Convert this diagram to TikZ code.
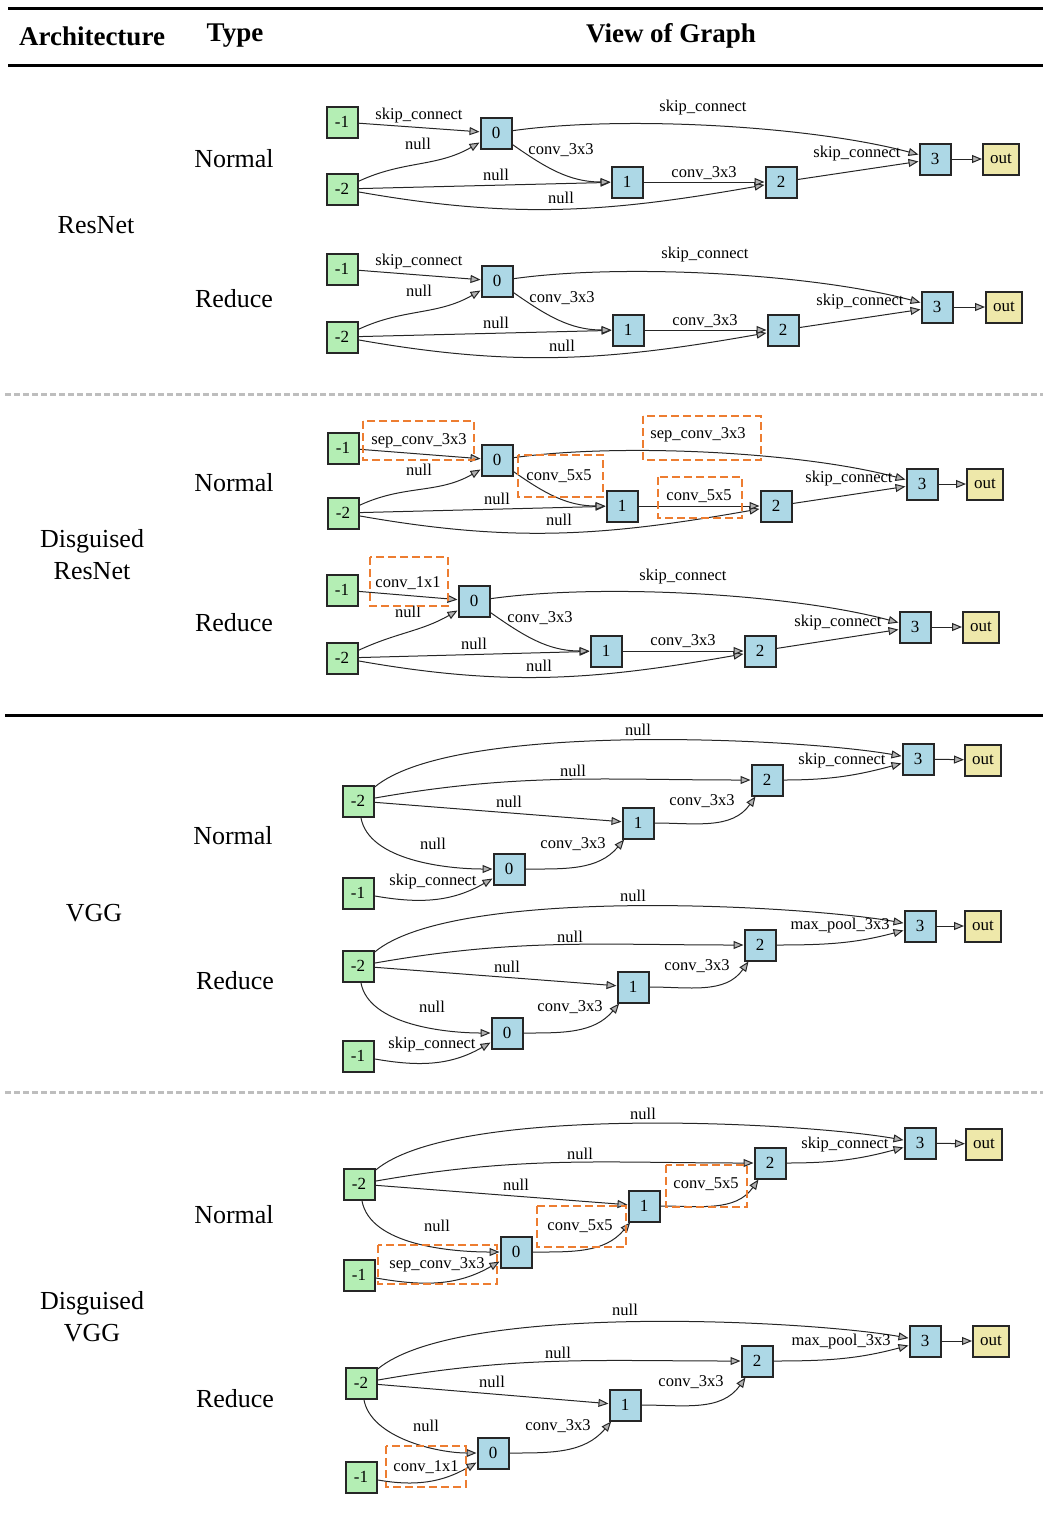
\documentclass[tikz,border=0pt]{standalone}
\usepackage{fontspec}
\setmainfont{Liberation Serif}
\usetikzlibrary{arrows.meta}
\definecolor{inpc}{RGB}{180,238,180}
\definecolor{midc}{RGB}{173,216,230}
\definecolor{outc}{RGB}{238,232,170}
\definecolor{hl}{RGB}{237,125,49}
\definecolor{sepc}{RGB}{190,190,190}

\tikzset{
 cellbox/.style={draw=black!85, line width=2pt, minimum width=31pt, minimum height=31pt, inner sep=0pt, font=\fontsize{17}{17}\selectfont},
 inp/.style={cellbox, fill=inpc},
 mid/.style={cellbox, fill=midc},
 outn/.style={cellbox, fill=outc, minimum width=36pt},
 e/.style={draw=black!85, line width=1pt, -{Triangle[length=10pt,width=8pt,fill=black!30]}},
 lab/.style={inner sep=0pt, font=\fontsize{16.5}{16.5}\selectfont},
 hlbox/.style={draw=hl, line width=2.8pt, dash pattern=on 8pt off 4pt},
 head/.style={font=\fontsize{27}{27}\selectfont\bfseries},
 side/.style={font=\fontsize{26}{32}\selectfont, align=center},
 rule/.style={line width=3pt, black},
 grayrule/.style={line width=3pt, sepc, dash pattern=on 6pt off 3pt},
}

% cell with the ResNet-like wiring: #1 prefix, #2 -1, #3 -2, #4..#7 nodes 0..3, #8 out
\newcommand\resnetcell[8]{%
  \node[inp] (#1i1) at (#2) {-1};
  \node[inp] (#1i2) at (#3) {-2};
  \node[mid] (#1n0) at (#4) {0};
  \node[mid] (#1n1) at (#5) {1};
  \node[mid] (#1n2) at (#6) {2};
  \node[mid] (#1n3) at (#7) {3};
  \node[outn] (#1o) at (#8) {out};
  \draw[e] (#1i1) -- (#1n0);
  \draw[e] (#1i2) to[out=25,in=210] (#1n0);
  \draw[e] (#1i2) -- (#1n1);
  \draw[e] (#1i2) to[out=-10,in=190] (#1n2);
  \draw[e] (#1n0) to[out=8,in=165,looseness=0.7] (#1n3);
  \draw[e] (#1n0) to[out=-35,in=180] (#1n1);
  \draw[e] (#1n1) -- (#1n2);
  \draw[e] (#1n2) -- (#1n3);
  \draw[e] (#1n3) -- (#1o);
}

% cell with the VGG-like chain wiring
\newcommand\vggcell[8]{%
  \node[inp] (#1i1) at (#2) {-1};
  \node[inp] (#1i2) at (#3) {-2};
  \node[mid] (#1n0) at (#4) {0};
  \node[mid] (#1n1) at (#5) {1};
  \node[mid] (#1n2) at (#6) {2};
  \node[mid] (#1n3) at (#7) {3};
  \node[outn] (#1o) at (#8) {out};
  \draw[e] (#1i2) to[out=40,in=170,looseness=0.5] (#1n3);
  \draw[e] (#1i2) to[out=10,in=180] (#1n2);
  \draw[e] (#1i2) -- (#1n1);
  \draw[e] (#1i2) to[out=-80,in=180,looseness=0.8] (#1n0);
  \draw[e] (#1i1) to[out=-10,in=210] (#1n0);
  \draw[e] (#1n0) to[out=0,in=230] (#1n1);
  \draw[e] (#1n1) to[out=0,in=235] (#1n2);
  \draw[e] (#1n2) to[out=0,in=195] (#1n3);
  \draw[e] (#1n3) -- (#1o);
}

\begin{document}
\begin{tikzpicture}[x=1pt,y=1pt]
\useasboundingbox (0,0) rectangle (1043,-1516);

% table header and rules
\draw[rule] (8,-8) -- (1043,-8);
\draw[rule] (8,-65) -- (1043,-65);
\node[head] (hA) at (92,-36) {Architecture};
\node[head] (hT) at (235,-36) {Type};
\node[head] (hV) at (671,-36) {View of Graph};
\draw[grayrule] (5,-394) -- (1043,-394);
\draw[rule] (5,-715) -- (1043,-715);
\draw[grayrule] (5,-1092) -- (1043,-1092);

% row titles
\node[side] (aRes) at (96,-225) {ResNet};
\node[side] (aDRes) at (92,-555) {Disguised\\ResNet};
\node[side] (aVgg) at (94,-913) {VGG};
\node[side] (aDVgg) at (92,-1317) {Disguised\\VGG};
\node[side] (t1) at (234,-159) {Normal};
\node[side] (t2) at (234,-299) {Reduce};
\node[side] (t3) at (234,-483) {Normal};
\node[side] (t4) at (234,-623) {Reduce};
\node[side] (t5) at (233,-836) {Normal};
\node[side] (t6) at (235,-981) {Reduce};
\node[side] (t7) at (234,-1215) {Normal};
\node[side] (t8) at (235,-1399) {Reduce};

% ---------- ResNet normal
\resnetcell{g1}{342,-122}{342,-189}{496,-133}{627,-182}{781,-182}{935,-159}{1001,-159}
\node[lab] (g1a) at (419,-116) {skip\_connect};
\node[lab] (g1b) at (418,-144) {null};
\node[lab] (g1c) at (496,-175) {null};
\node[lab] (g1d) at (561,-198) {null};
\node[lab] (g1e) at (703,-108) {skip\_connect};
\node[lab] (g1f) at (561,-150) {conv\_3x3};
\node[lab] (g1g) at (704,-173) {conv\_3x3};
\node[lab] (g1h) at (857,-154) {skip\_connect};

% ---------- ResNet reduce
\resnetcell{g2}{342,-269}{342,-337}{497,-281}{628,-330}{783,-330}{937,-307}{1004,-307}
\node[lab] (g2a) at (419,-262) {skip\_connect};
\node[lab] (g2b) at (419,-291) {null};
\node[lab] (g2c) at (496,-323) {null};
\node[lab] (g2d) at (562,-346) {null};
\node[lab] (g2e) at (705,-255) {skip\_connect};
\node[lab] (g2f) at (562,-298) {conv\_3x3};
\node[lab] (g2g) at (705,-321) {conv\_3x3};
\node[lab] (g2h) at (860,-302) {skip\_connect};

% ---------- Disguised ResNet normal
\resnetcell{g3}{343,-448}{343,-513}{497,-460}{622,-506}{776,-506}{922,-484}{985,-484}
\node[lab] (g3a) at (419,-441) {sep\_conv\_3x3};
\node[lab] (g3b) at (419,-470) {null};
\node[lab] (g3c) at (497,-499) {null};
\node[lab] (g3d) at (559,-520) {null};
\node[lab] (g3e) at (698,-435) {sep\_conv\_3x3};
\node[lab] (g3f) at (559,-476) {conv\_5x5};
\node[lab] (g3g) at (699,-496) {conv\_5x5};
\node[lab] (g3h) at (849,-479) {skip\_connect};
\draw[hlbox] (363,-421) rectangle (474,-460);
\draw[hlbox] (643,-416) rectangle (761,-460);
\draw[hlbox] (518,-455) rectangle (603,-497);
\draw[hlbox] (658,-477) rectangle (742,-518);

% ---------- Disguised ResNet reduce
\resnetcell{g4}{342,-590}{342,-658}{474,-601}{606,-651}{760,-651}{915,-627}{981,-627}
\node[lab] (g4a) at (408,-583) {conv\_1x1};
\node[lab] (g4b) at (408,-612) {null};
\node[lab] (g4c) at (474,-644) {null};
\node[lab] (g4d) at (539,-666) {null};
\node[lab] (g4e) at (683,-577) {skip\_connect};
\node[lab] (g4f) at (540,-618) {conv\_3x3};
\node[lab] (g4g) at (683,-641) {conv\_3x3};
\node[lab] (g4h) at (838,-623) {skip\_connect};
\draw[hlbox] (370,-557) rectangle (448,-606);

% ---------- VGG normal
\vggcell{g5}{358,-893}{358,-801}{509,-869}{638,-823}{767,-780}{918,-759}{983,-760}
\node[lab] (g5a) at (638,-730) {null};
\node[lab] (g5b) at (573,-771) {null};
\node[lab] (g5c) at (509,-802) {null};
\node[lab] (g5d) at (433,-844) {null};
\node[lab] (g5e) at (433,-882) {skip\_connect};
\node[lab] (g5f) at (573,-844) {conv\_3x3};
\node[lab] (g5g) at (702,-801) {conv\_3x3};
\node[lab] (g5h) at (842,-761) {skip\_connect};

% ---------- VGG reduce
\vggcell{g6}{358,-1056}{358,-966}{507,-1033}{633,-987}{760,-945}{920,-926}{983,-926}
\node[lab] (g6a) at (633,-896) {null};
\node[lab] (g6b) at (570,-937) {null};
\node[lab] (g6c) at (507,-967) {null};
\node[lab] (g6d) at (432,-1007) {null};
\node[lab] (g6e) at (432,-1045) {skip\_connect};
\node[lab] (g6f) at (570,-1007) {conv\_3x3};
\node[lab] (g6g) at (697,-966) {conv\_3x3};
\node[lab] (g6h) at (840,-926) {max\_pool\_3x3};

% ---------- Disguised VGG normal
\vggcell{g7}{359,-1275}{359,-1184}{516,-1252}{644,-1206}{770,-1163}{920,-1143}{984,-1144}
\node[lab] (g7a) at (643,-1114) {null};
\node[lab] (g7b) at (580,-1154) {null};
\node[lab] (g7c) at (516,-1185) {null};
\node[lab] (g7d) at (437,-1226) {null};
\node[lab] (g7e) at (437,-1265) {sep\_conv\_3x3};
\node[lab] (g7f) at (580,-1226) {conv\_5x5};
\node[lab] (g7g) at (706,-1184) {conv\_5x5};
\node[lab] (g7h) at (845,-1145) {skip\_connect};
\draw[hlbox] (378,-1245) rectangle (497,-1284);
\draw[hlbox] (537,-1206) rectangle (626,-1247);
\draw[hlbox] (666,-1165) rectangle (747,-1207);

% ---------- Disguised VGG reduce
\vggcell{g8}{361,-1477}{361,-1383}{493,-1453}{625,-1405}{757,-1361}{925,-1341}{991,-1341}
\node[lab] (g8a) at (625,-1310) {null};
\node[lab] (g8b) at (558,-1353) {null};
\node[lab] (g8c) at (492,-1382) {null};
\node[lab] (g8d) at (426,-1426) {null};
\node[lab] (g8e) at (426,-1467) {conv\_1x1};
\node[lab] (g8f) at (558,-1426) {conv\_3x3};
\node[lab] (g8g) at (691,-1382) {conv\_3x3};
\node[lab] (g8h) at (841,-1342) {max\_pool\_3x3};
\draw[hlbox] (386,-1446) rectangle (466,-1487);
\end{tikzpicture}
\end{document}
